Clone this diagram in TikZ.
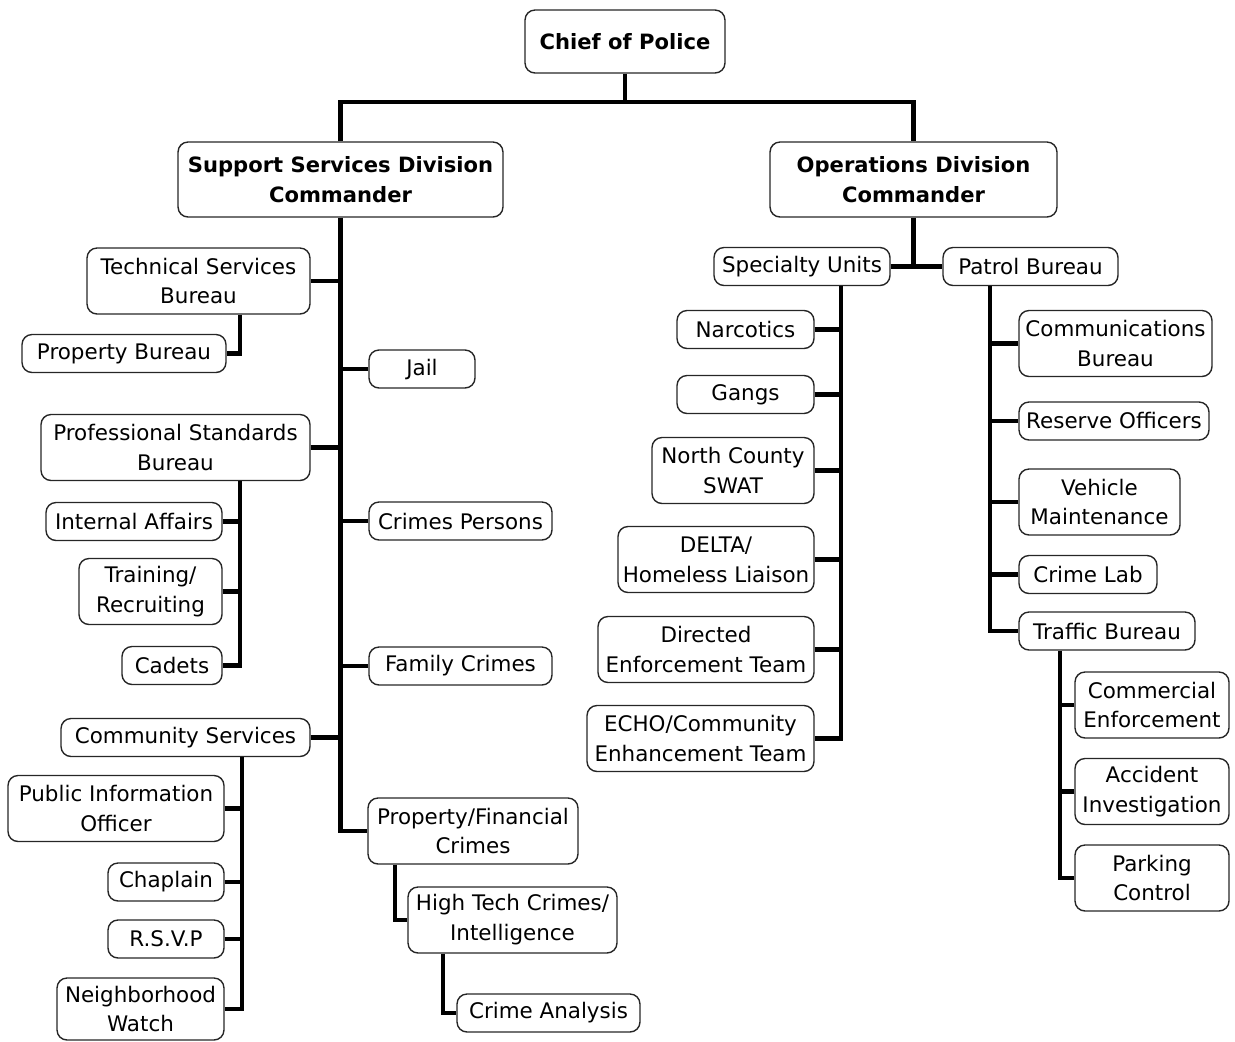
\documentclass[tikz,border=0pt]{standalone}
\usepackage{fontspec}
\setmainfont{DejaVu Sans}
\begin{document}
\begin{tikzpicture}[x=0.02cm,y=-0.02cm]
\tikzstyle{unit}=[draw=black!85,line width=0.8pt,rounded corners=0.2cm,align=center,inner sep=1pt,font=\fontsize{12.2}{17}\selectfont]
\tikzstyle{head}=[unit,font=\fontsize{12}{17}\selectfont\bfseries]
\tikzstyle{oneline}=[minimum height=0.76cm]
\tikzstyle{twoline}=[minimum height=1.32cm]
\tikzstyle{link}=[black,line width=2.4pt]
\useasboundingbox (0,0) rectangle (1235,1042);
\node [head,minimum width=4cm,minimum height=1.26cm] (chief) at (625,41.5) {Chief of Police};
\node [head,minimum width=6.5cm,minimum height=1.5cm] (support) at (340.5,179.5) {Support Services Division\\Commander};
\node [head,minimum width=5.74cm,minimum height=1.5cm] (ops) at (913.5,179.5) {Operations Division\\Commander};
\node [unit,twoline,minimum width=4.46cm] (tech) at (198.5,281) {Technical Services\\Bureau};
\node [unit,oneline,minimum width=4.08cm] (propb) at (124,353.5) {Property Bureau};
\node [unit,twoline,minimum width=5.38cm] (prof) at (175.5,447.5) {Professional Standards\\Bureau};
\node [unit,oneline,minimum width=3.52cm] (ia) at (134,521.5) {Internal Affairs};
\node [unit,twoline,minimum width=2.86cm] (train) at (150.5,591.5) {Training/\\Recruiting};
\node [unit,oneline,minimum width=2cm] (cadets) at (172,665.5) {Cadets};
\node [unit,oneline,minimum width=4.98cm] (comm) at (185.5,737.5) {Community Services};
\node [unit,twoline,minimum width=4.32cm] (pio) at (116,808.5) {Public Information\\Officer};
\node [unit,oneline,minimum width=2.32cm] (chap) at (166,882) {Chaplain};
\node [unit,oneline,minimum width=2.32cm] (rsvp) at (166,939) {R.S.V.P};
\node [unit,minimum height=1.24cm,minimum width=3.34cm] (nw) at (140.5,1009) {Neighborhood\\Watch};
\node [unit,oneline,minimum width=2.12cm] (jail) at (422,369) {Jail};
\node [unit,oneline,minimum width=3.66cm] (cp) at (460.5,521) {Crimes Persons};
\node [unit,oneline,minimum width=3.66cm] (fc) at (460.5,666) {Family Crimes};
\node [unit,twoline,minimum width=4.2cm] (pfc) at (473,831) {Property/Financial\\Crimes};
\node [unit,twoline,minimum width=4.18cm] (htc) at (512.5,920) {High Tech Crimes/\\Intelligence};
\node [unit,oneline,minimum width=3.66cm] (ca) at (548.5,1013) {Crime Analysis};
\node [unit,oneline,minimum width=3.52cm] (spec) at (802,266.5) {Specialty Units};
\node [unit,oneline,minimum width=3.5cm] (patrol) at (1030.5,266.5) {Patrol Bureau};
\node [unit,oneline,minimum width=2.74cm] (narc) at (745.5,329.5) {Narcotics};
\node [unit,oneline,minimum width=2.74cm] (gangs) at (745.5,394.5) {Gangs};
\node [unit,twoline,minimum width=3.24cm] (swat) at (733,470.5) {North County\\SWAT};
\node [unit,twoline,minimum width=3.92cm] (delta) at (716,559.5) {DELTA/\\Homeless Liaison};
\node [unit,twoline,minimum width=4.32cm] (det) at (706,649.5) {Directed\\Enforcement Team};
\node [unit,twoline,minimum width=4.54cm] (echo) at (700.5,738.5) {ECHO/Community\\Enhancement Team};
\node [unit,twoline,minimum width=3.86cm] (cb) at (1115.5,343.5) {Communications\\Bureau};
\node [unit,oneline,minimum width=3.8cm] (ro) at (1114,421) {Reserve Officers};
\node [unit,twoline,minimum width=3.22cm] (vm) at (1099.5,502) {Vehicle\\Maintenance};
\node [unit,oneline,minimum width=2.76cm] (cl) at (1088,574.5) {Crime Lab};
\node [unit,oneline,minimum width=3.52cm] (tb) at (1107,631) {Traffic Bureau};
\node [unit,twoline,minimum width=3.08cm] (ce) at (1152,705) {Commercial\\Enforcement};
\node [unit,twoline,minimum width=3.08cm] (ai) at (1152,791.5) {Accident\\Investigation};
\node [unit,twoline,minimum width=3.08cm] (pc) at (1152,878) {Parking\\Control};
\coordinate (bus) at (625,102);
\draw [link] (chief.south) -- (bus);
\draw [link] (support.north) |- (bus) -| (ops.north);
\draw [link] (support.south) |- (pfc.west);
\draw [link] (tech.east) -- (tech.east -| support.south);
\draw [link] (prof.east) -- (prof.east -| support.south);
\draw [link] (comm.east) -- (comm.east -| support.south);
\draw [link] (jail.west) -- (jail.west -| support.south);
\draw [link] (cp.west) -- (cp.west -| support.south);
\draw [link] (fc.west) -- (fc.west -| support.south);
\draw [link] ([xshift=0.83cm]tech.south) |- (propb.east);
\coordinate (ps) at ([xshift=1.29cm]prof.south);
\draw [link] (ps) |- (cadets.east);
\draw [link] (ia.east) -- (ia.east -| ps);
\draw [link] (train.east) -- (train.east -| ps);
\coordinate (cs) at ([xshift=1.13cm]comm.south);
\draw [link] (cs) |- (nw.east);
\draw [link] (pio.east) -- (pio.east -| cs);
\draw [link] (chap.east) -- (chap.east -| cs);
\draw [link] (rsvp.east) -- (rsvp.east -| cs);
\draw [link] ([xshift=-1.56cm]pfc.south) |- (htc.west);
\draw [link] ([xshift=-1.39cm]htc.south) |- (ca.west);
\draw [link] (ops.south) -- (ops.south |- spec.east);
\draw [link] (spec.east) -- (patrol.west);
\coordinate (su) at ([xshift=0.78cm]spec.south);
\draw [link] (su) |- (echo.east);
\draw [link] (narc.east) -- (narc.east -| su);
\draw [link] (gangs.east) -- (gangs.east -| su);
\draw [link] (swat.east) -- (swat.east -| su);
\draw [link] (delta.east) -- (delta.east -| su);
\draw [link] (det.east) -- (det.east -| su);
\coordinate (pb) at ([xshift=-0.81cm]patrol.south);
\draw [link] (pb) |- (tb.west);
\draw [link] (cb.west) -- (cb.west -| pb);
\draw [link] (ro.west) -- (ro.west -| pb);
\draw [link] (vm.west) -- (vm.west -| pb);
\draw [link] (cl.west) -- (cl.west -| pb);
\coordinate (tr) at ([xshift=-0.94cm]tb.south);
\draw [link] (tr) |- (pc.west);
\draw [link] (ce.west) -- (ce.west -| tr);
\draw [link] (ai.west) -- (ai.west -| tr);
\end{tikzpicture}
\end{document}
